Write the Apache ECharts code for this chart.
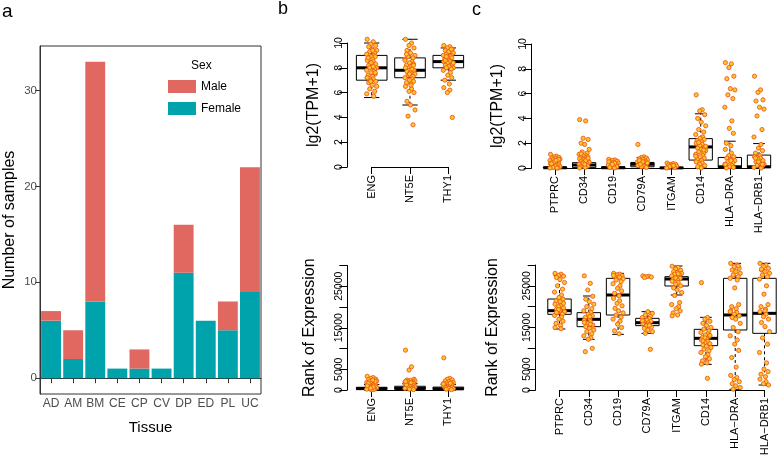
<!DOCTYPE html>
<html>
<head>
<meta charset="utf-8">
<script src="https://cdn.jsdelivr.net/npm/echarts@6/dist/echarts.min.js"></script>
<style>
  html, body { margin: 0; padding: 0; background: #fff; }
  #chart { width: 778px; height: 467px; }
</style>
</head>
<body>
<div id="chart"></div>
<script>
// panel a: samples per tissue
const tissues = ['AD', 'AM', 'BM', 'CE', 'CP', 'CV', 'DP', 'ED', 'PL', 'UC']
const femaleCounts = [6, 2, 8, 1, 1, 1, 11, 6, 5, 9]
const maleCounts = [1, 3, 25, 0, 2, 0, 5, 0, 3, 13]
const countTicks = [0, 10, 20, 30]

// panel b / c gene names
const genesB = ['ENG', 'NT5E', 'THY1']
const genesC = ['PTPRC', 'CD34', 'CD19', 'CD79A', 'ITGAM', 'CD14', 'HLA\u2212DRA', 'HLA\u2212DRB1']
const tpmTicks = [0, 2, 4, 6, 8, 10]
const rankLabels = [0, 5000, 15000, 25000]

// box stats: [min, q1, median, q3, max]
const tpmBoxB = [
  [5.6, 7.0, 8.0, 9.0, 10.0],
  [5.0, 7.2, 7.8, 8.8, 10.3],
  [7.0, 8.0, 8.5, 9.0, 9.6]
]
const rankBoxB = [
  [0, 100, 350, 650, 1300],
  [0, 150, 400, 900, 1500],
  [0, 100, 300, 700, 1300]
]
const tpmBoxC = [
  [0, 0, 0.02, 0.08, 0.2],
  [0, 0.03, 0.24, 0.43, 0.9],
  [0, 0, 0.02, 0.1, 0.24],
  [0, 0.1, 0.3, 0.45, 0.85],
  [0, 0, 0.01, 0.05, 0.1],
  [0, 0.64, 1.7, 2.37, 4.37],
  [0, 0.03, 0.1, 0.85, 2.16],
  [0, 0.03, 0.1, 1.04, 1.97]
]
const rankBoxC = [
  [14640, 18160, 19040, 21840, 27440],
  [12160, 15200, 16960, 18560, 22560],
  [13360, 18000, 22800, 26800, 28000],
  [13600, 15440, 16160, 17200, 18800],
  [22800, 24960, 26640, 27200, 29760],
  [6160, 10640, 12400, 14560, 17440],
  [160, 14400, 18000, 26800, 30400],
  [1200, 13600, 18400, 26800, 30400]
]

// sample points
const tpmPointsB = [
  [10.3, 10.1, 9.9, 9.8, 9.7, 9.5, 9.4, 9.3, 9.2, 9.1, 9.0, 8.9, 8.9, 8.8, 8.7, 8.6, 8.5, 8.4, 8.3, 8.2, 8.1, 8.0, 8.0, 7.9, 7.8, 7.7, 7.6, 7.5, 7.4, 7.3, 7.2, 7.1, 7.0, 6.9, 6.8, 6.6, 6.5, 6.3, 6.1, 5.9, 5.7, 8.4, 7.6, 8.8, 9.4, 7.2, 8.1, 6.9],
  [10.3, 10.0, 9.8, 9.6, 9.4, 9.2, 9.0, 8.9, 8.8, 8.7, 8.5, 8.4, 8.3, 8.2, 8.1, 8.0, 7.9, 7.8, 7.8, 7.7, 7.6, 7.5, 7.4, 7.3, 7.2, 7.1, 7.0, 6.9, 6.8, 6.7, 6.5, 6.3, 6.1, 6.0, 5.3, 5.0, 4.6, 4.1, 3.4, 8.6, 7.9, 7.5, 8.2, 9.1, 6.6],
  [9.8, 9.7, 9.6, 9.5, 9.4, 9.3, 9.2, 9.1, 9.0, 9.0, 8.9, 8.8, 8.8, 8.7, 8.6, 8.5, 8.5, 8.4, 8.3, 8.2, 8.1, 8.0, 8.0, 7.9, 7.8, 7.6, 7.4, 7.2, 7.0, 6.7, 6.4, 6.2, 6.0, 4.0, 8.6, 9.3, 8.4, 8.9, 9.5]
]
const rankPointsB = [
  [3300, 3000, 2800, 2600, 2500, 2300, 2200, 2000, 1900, 1800, 1700, 1500, 1400, 1300, 1200, 1100, 1000, 900, 800, 700, 600, 500, 400, 300, 200, 100, 50, 2100, 1600, 2400, 1000, 700, 450],
  [9600, 5600, 4800, 2600, 2400, 2300, 2200, 2100, 2000, 1900, 1800, 1700, 1600, 1500, 1400, 1300, 1200, 1100, 1000, 900, 800, 700, 600, 500, 400, 300, 200, 100, 1250, 1750, 2050],
  [7750, 2800, 2600, 2400, 2200, 2000, 1800, 1700, 1600, 1500, 1400, 1300, 1200, 1100, 1000, 900, 800, 700, 600, 500, 400, 300, 200, 100, 1450, 1650]
]
const tpmPointsC = [
  [1.1, 0.95, 0.9, 0.85, 0.8, 0.75, 0.7, 0.65, 0.6, 0.6, 0.55, 0.5, 0.45, 0.4, 0.4, 0.35, 0.3, 0.3, 0.25, 0.2, 0.15, 0.1, 0.05, 0, 0, 0, 0.5, 0.7, 0.35, 0.62],
  [3.9, 3.8, 2.4, 2.3, 2.0, 1.9, 1.5, 1.3, 1.2, 1.1, 1.0, 0.95, 0.9, 0.85, 0.8, 0.75, 0.7, 0.65, 0.6, 0.55, 0.5, 0.45, 0.4, 0.35, 0.3, 0.25, 0.2, 0.15, 0.1, 0.05, 0, 0.6, 0.4, 0.8, 1.15, 0.3],
  [0.7, 0.65, 0.6, 0.55, 0.5, 0.45, 0.4, 0.35, 0.3, 0.25, 0.2, 0.15, 0.1, 0.05, 0, 0.5, 0.4, 0.3],
  [1.9, 0.9, 0.85, 0.8, 0.75, 0.7, 0.65, 0.6, 0.55, 0.5, 0.45, 0.4, 0.35, 0.3, 0.25, 0.2, 0.15, 0.1, 0.05, 0.6, 0.5, 0.4, 0.3],
  [0.4, 0.35, 0.3, 0.3, 0.25, 0.2, 0.15, 0.1, 0.05, 0, 0.2],
  [5.9, 4.7, 4.6, 4.3, 4.0, 3.7, 3.4, 3.1, 2.9, 2.7, 2.5, 2.4, 2.3, 2.2, 2.1, 2.0, 1.9, 1.8, 1.7, 1.6, 1.5, 1.4, 1.3, 1.2, 1.1, 1.0, 0.9, 0.8, 0.7, 0.6, 0.5, 0.4, 0.3, 0.2, 0.1, 0, 1.75, 2.05, 1.45, 0.95],
  [8.5, 8.4, 8.1, 7.4, 7.2, 6.4, 6.3, 5.9, 5.6, 4.9, 3.8, 3.2, 2.8, 2.0, 1.8, 1.5, 1.2, 1.0, 0.9, 0.8, 0.7, 0.6, 0.5, 0.4, 0.3, 0.2, 0.1, 0.05, 0, 0.6, 0.3],
  [7.4, 6.3, 6.1, 5.5, 5.4, 4.9, 4.75, 4.2, 3.1, 2.5, 1.9, 1.6, 1.4, 1.2, 1.0, 0.9, 0.8, 0.7, 0.6, 0.5, 0.4, 0.3, 0.2, 0.1, 0.05, 0, 0.5, 0.3, 0.8]
]
const rankPointsC = [
  [28000, 27800, 27500, 27300, 27000, 26500, 25800, 25000, 24200, 23500, 22800, 22200, 21800, 21400, 21000, 20600, 20300, 20000, 19700, 19400, 19100, 18800, 18500, 18200, 17900, 17500, 17000, 16500, 16000, 15500, 15000, 14700, 19300, 20800, 18600, 21200],
  [27400, 25600, 24000, 22500, 21800, 21200, 20600, 20000, 19500, 19000, 18600, 18200, 17800, 17400, 17000, 16700, 16400, 16000, 15600, 15200, 14800, 14400, 14000, 13500, 13000, 12500, 12200, 10000, 9200, 17600, 16200, 15800],
  [28000, 27800, 27600, 27400, 27200, 27000, 26700, 26400, 26000, 25500, 25000, 24400, 23800, 23200, 22600, 22000, 21400, 20800, 20200, 19600, 19000, 18500, 18000, 17500, 17000, 16500, 15800, 15000, 14200, 13500, 27500, 27100],
  [27400, 27300, 27200, 27100, 27000, 18800, 18400, 18000, 17700, 17400, 17100, 16800, 16500, 16300, 16100, 15900, 15700, 15400, 15100, 14800, 14400, 14000, 13600, 9760, 16600, 15500],
  [29700, 29400, 29000, 28700, 28400, 28200, 28000, 27800, 27600, 27400, 27200, 27000, 26800, 26600, 26400, 26100, 25800, 25400, 25000, 24500, 24000, 23400, 22700, 21000, 20500, 20000, 19500, 19000, 18500, 18000, 17800, 27900, 26900],
  [25760, 17400, 17000, 16500, 16000, 15500, 15000, 14600, 14200, 13800, 13500, 13200, 12900, 12600, 12300, 12000, 11700, 11400, 11100, 10800, 10500, 10200, 9800, 9400, 9000, 8500, 8000, 7500, 7000, 6500, 6200, 2800, 12500, 13100, 11800],
  [30400, 30000, 29600, 29200, 28800, 28400, 28000, 27600, 27200, 26800, 26400, 24500, 20500, 20000, 19500, 19000, 18600, 18200, 17800, 17400, 17000, 16000, 15000, 14000, 13000, 12000, 11000, 9500, 7800, 5500, 3500, 3000, 2500, 2000, 1500, 1000, 600, 200, 29800, 18800],
  [30400, 30000, 29600, 29200, 28800, 28400, 28000, 27600, 27200, 26600, 25000, 23000, 20500, 20000, 19400, 18800, 18200, 17600, 17000, 16200, 15200, 14000, 12500, 11000, 9000, 6500, 5000, 4400, 3800, 3200, 2600, 2000, 1500, 1200, 29000, 19000]
]

// horizontal jitter for the dots, in px
const jitterPx = [-4.5, 1.5, -1, 4, -3, 0.5, 5, -2, 3, -5, 2, -0.5, 3.5, -3.5, 1]

const FONT = '"Liberation Sans", Arial, Helvetica, sans-serif'

const boxData = stats => stats.map((s, i) => [i].concat(s))
const pointData = groups => {
  const out = []
  groups.forEach((vals, i) => {
    vals.forEach((v, k) => {
      out.push({ value: [i, v], symbolOffset: [jitterPx[k % jitterPx.length], 0] })
    })
  })
  return out
}

// R style boxplot: dashed whiskers, staples, thick median
const renderBox = (params, api) => {
  const i = api.value(0)
  const lo = api.coord([i, api.value(1)])
  const q1 = api.coord([i, api.value(2)])
  const md = api.coord([i, api.value(3)])
  const q3 = api.coord([i, api.value(4)])
  const hi = api.coord([i, api.value(5)])
  const step = api.coord([1, 0])[0] - api.coord([0, 0])[0]
  const w = step * 0.8
  const cap = step * 0.2
  const x = lo[0]
  const dash = { stroke: '#000', lineWidth: 1, lineDash: [3, 3] }
  const solid = { stroke: '#000', lineWidth: 1 }
  return {
    type: 'group',
    children: [
      { type: 'line', shape: { x1: x, y1: q3[1], x2: x, y2: hi[1] }, style: dash },
      { type: 'line', shape: { x1: x, y1: q1[1], x2: x, y2: lo[1] }, style: dash },
      { type: 'line', shape: { x1: x - cap, y1: hi[1], x2: x + cap, y2: hi[1] }, style: solid },
      { type: 'line', shape: { x1: x - cap, y1: lo[1], x2: x + cap, y2: lo[1] }, style: solid },
      { type: 'rect', shape: { x: x - w / 2, y: q3[1], width: w, height: q1[1] - q3[1] }, style: { fill: '#fff', stroke: '#000', lineWidth: 1 } },
      { type: 'line', shape: { x1: x - w / 2, y1: md[1], x2: x + w / 2, y2: md[1] }, style: { stroke: '#000', lineWidth: 3 } }
    ]
  }
}

const geneXAxis = (gridIndex, names) => ({
  type: 'category',
  gridIndex,
  data: names,
  boundaryGap: false,
  offset: 5,
  axisLine: { show: true, lineStyle: { color: '#000', width: 1 } },
  axisTick: { show: true, length: 7, interval: 0, lineStyle: { color: '#000' } },
  axisLabel: { interval: 0, rotate: 90, fontSize: 11, color: '#000', margin: 3, fontFamily: FONT },
  splitLine: { show: false }
})

const geneYAxis = (gridIndex, name, max, interval, labels, offset, nameGap) => ({
  type: 'value',
  gridIndex,
  min: 0,
  max,
  interval,
  offset,
  name,
  nameLocation: 'middle',
  nameRotate: 90,
  nameGap,
  nameTextStyle: { fontSize: 16, color: '#000', fontFamily: FONT },
  axisLine: { show: true, lineStyle: { color: '#000', width: 1 } },
  axisTick: { show: true, length: 8, lineStyle: { color: '#000' } },
  axisLabel: {
    rotate: 90, fontSize: 10.5, color: '#000', margin: 3, customValues: labels, fontFamily: FONT,
    formatter: v => String(v)
  },
  splitLine: { show: false }
})

const dotStyle = { color: '#FFC52A', borderColor: '#EC5A1C', borderWidth: 0.9, opacity: 1 }

const boxSeries = (idx, stats) => ({
  type: 'custom',
  xAxisIndex: idx,
  yAxisIndex: idx,
  renderItem: renderBox,
  encode: { x: 0, y: [1, 2, 3, 4, 5] },
  data: boxData(stats),
  silent: true,
  z: 2
})
const dotSeries = (idx, groups) => ({
  type: 'scatter',
  xAxisIndex: idx,
  yAxisIndex: idx,
  data: pointData(groups),
  symbol: 'circle',
  symbolSize: 4.2,
  itemStyle: dotStyle,
  clip: false,
  silent: true,
  z: 3
})

const chart = echarts.init(document.getElementById('chart'), null, { renderer: 'canvas' })

const labelTitle = (text, left, top, size) => ({
  text, left, top, padding: 0,
  textStyle: { fontSize: size, fontWeight: 'normal', color: '#000', fontFamily: FONT }
})

const option = {
  animation: false,
  backgroundColor: '#fff',
  textStyle: { fontFamily: FONT },
  title: [
    labelTitle('a', 2, 2, 19),
    labelTitle('b', 278, 0, 18),
    labelTitle('c', 472, 1, 18),
    labelTitle('Sex', 191, 60, 12)
  ],
  legend: {
    data: ['Male', 'Female'],
    orient: 'vertical',
    left: 168,
    top: 80,
    icon: 'rect',
    itemWidth: 28,
    itemHeight: 13,
    itemGap: 9,
    padding: 0,
    selectedMode: false,
    textStyle: { fontSize: 12, color: '#000', fontFamily: FONT, lineHeight: 13 }
  },
  grid: [
    { left: 40, top: 46, width: 221, height: 348, show: true, borderColor: '#333', borderWidth: 1, backgroundColor: 'transparent', outerBoundsMode: 'none' },
    { left: 371.7, top: 43, width: 76.6, height: 124, outerBoundsMode: 'none' },
    { left: 371.7, top: 265.5, width: 76.6, height: 124.5, outerBoundsMode: 'none' },
    { left: 555, top: 44, width: 204, height: 124, outerBoundsMode: 'none' },
    { left: 559.5, top: 265, width: 205, height: 125, outerBoundsMode: 'none' }
  ],
  xAxis: [
    {
      type: 'category',
      gridIndex: 0,
      data: tissues,
      name: 'Tissue',
      nameLocation: 'middle',
      nameGap: 26,
      nameTextStyle: { fontSize: 15, color: '#000', fontFamily: FONT },
      axisLine: { show: true, lineStyle: { color: '#333', width: 1 } },
      axisTick: { show: true, alignWithLabel: true, length: 5, lineStyle: { color: '#333' } },
      axisLabel: { fontSize: 12, color: '#4D4D4D', margin: 4, interval: 0, fontFamily: FONT },
      splitLine: { show: false }
    },
    geneXAxis(1, genesB),
    geneXAxis(2, genesB),
    geneXAxis(3, genesC),
    geneXAxis(4, genesC)
  ],
  yAxis: [
    {
      type: 'value',
      gridIndex: 0,
      min: -1.65,
      max: 34.65,
      name: 'Number of samples',
      nameLocation: 'middle',
      nameRotate: 90,
      nameGap: 22,
      nameTextStyle: { fontSize: 16, color: '#000', fontFamily: FONT },
      axisLine: { show: true, lineStyle: { color: '#333', width: 1 } },
      axisTick: { show: true, length: 5, customValues: countTicks, lineStyle: { color: '#333' } },
      axisLabel: { fontSize: 11.5, color: '#4D4D4D', margin: 3, customValues: countTicks, fontFamily: FONT },
      splitLine: { show: false }
    },
    geneYAxis(1, 'lg2(TPM+1)', 10, 2, tpmTicks, 24.4, 26),
    geneYAxis(2, 'Rank of Expression', 30000, 5000, rankLabels, 24.4, 30),
    geneYAxis(3, 'lg2(TPM+1)', 10, 2, tpmTicks, 23.3, 26),
    geneYAxis(4, 'Rank of Expression', 30000, 5000, rankLabels, 23.8, 35)
  ],
  series: [
    {
      name: 'Female',
      type: 'bar',
      stack: 'sex',
      xAxisIndex: 0,
      yAxisIndex: 0,
      data: femaleCounts,
      barWidth: '90%',
      itemStyle: { color: '#00A3AB' }
    },
    {
      name: 'Male',
      type: 'bar',
      stack: 'sex',
      xAxisIndex: 0,
      yAxisIndex: 0,
      data: maleCounts,
      barWidth: '90%',
      itemStyle: { color: '#E16861' }
    },
    boxSeries(1, tpmBoxB),
    dotSeries(1, tpmPointsB),
    boxSeries(2, rankBoxB),
    dotSeries(2, rankPointsB),
    boxSeries(3, tpmBoxC),
    dotSeries(3, tpmPointsC),
    boxSeries(4, rankBoxC),
    dotSeries(4, rankPointsC)
  ]
}

chart.setOption(option)
</script>
</body>
</html>
